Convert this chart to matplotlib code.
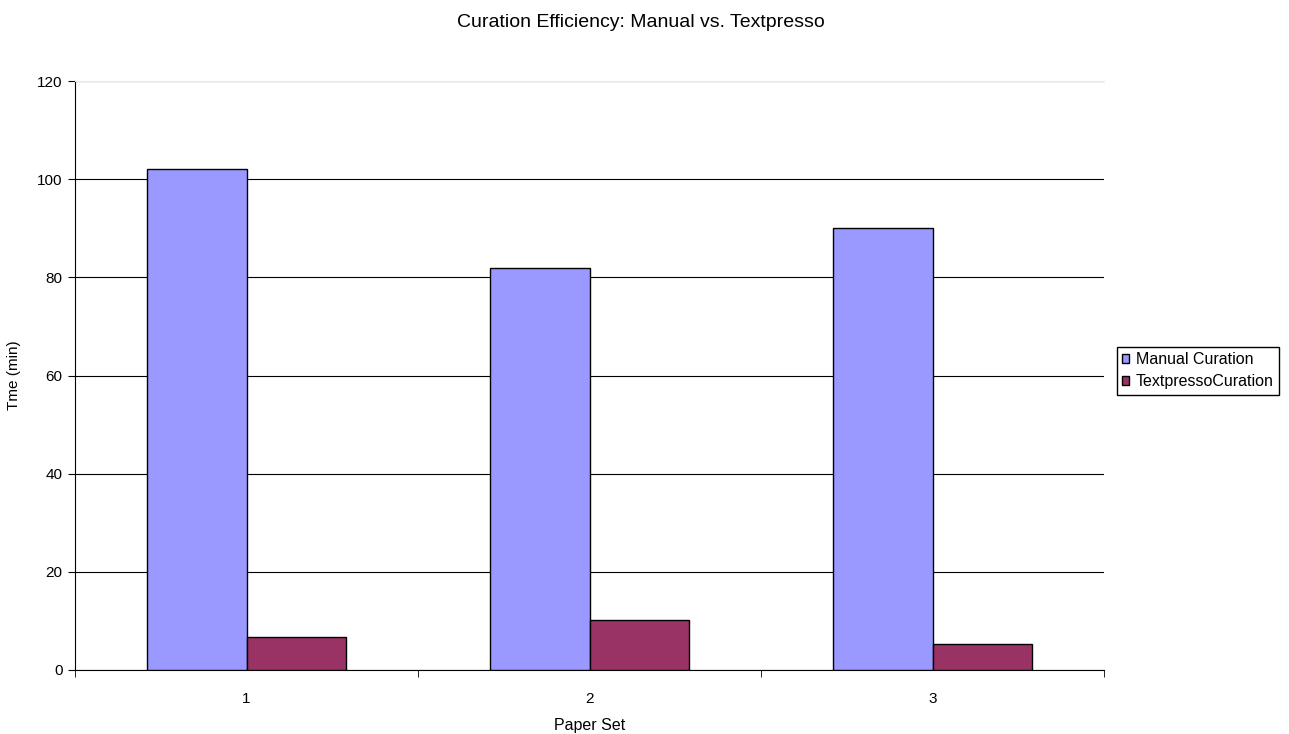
import matplotlib.pyplot as plt
import numpy as np

plt.rcParams['font.family'] = ['Liberation Sans', 'DejaVu Sans']

# datos
paper_sets = ['1', '2', '3']
manual = [102, 82, 90]
textpresso = [6.7, 10.2, 5.3]

x = np.arange(1, len(paper_sets) + 1)
ancho = 0.29

figura = plt.figure(figsize=(12.89, 7.34), dpi=100)
ejes = figura.add_axes([0.0582, 0.0872, 0.7983, 0.8024])

ejes.bar(x - ancho / 2, manual, ancho, color='#9999FF', edgecolor='black',
         linewidth=1, label='Manual Curation', zorder=3)
ejes.bar(x + ancho / 2, textpresso, ancho, color='#993366', edgecolor='black',
         linewidth=1, label='TextpressoCuration', zorder=3)

ejes.set_xlim(0.5, 3.5)
ejes.set_ylim(0, 120)
ejes.set_yticks(range(0, 121, 20))
ejes.set_xticks(x)
ejes.set_xticklabels(paper_sets)
ejes.set_xticks([0.5, 1.5, 2.5, 3.5], minor=True)
ejes.tick_params(axis='x', which='major', length=0, pad=16, labelsize=11)
ejes.tick_params(axis='x', which='minor', length=5, direction='out')
ejes.tick_params(axis='y', length=5, direction='out', labelsize=11, pad=4)

ejes.yaxis.grid(True, color='black', linewidth=0.8, zorder=0)
ejes.spines['right'].set_visible(False)
ejes.spines['top'].set_color('#e6e6e6')

figura.text(0.497, 1 - 27 / 734, 'Curation Efficiency: Manual vs. Textpresso',
            fontsize=14, ha='center', va='baseline')
ejes.set_xlabel('Paper Set', fontsize=11.5)
ejes.xaxis.set_label_coords(0.5, -0.082)
ejes.set_ylabel('Tme (min)', fontsize=11)
ejes.yaxis.set_label_coords(-0.0525, 0.5)

ejes.legend(loc='upper left', bbox_to_anchor=(1117 / 1289, 1 - 347 / 734),
            bbox_transform=figura.transFigure, frameon=True,
            fancybox=False, edgecolor='black', framealpha=1, fontsize=11.5,
            handlelength=0.45, handleheight=0.45, handletextpad=0.4,
            borderpad=0.33, labelspacing=0.45, borderaxespad=0)

figura.savefig('out.png', dpi=100)
plt.close(figura)
